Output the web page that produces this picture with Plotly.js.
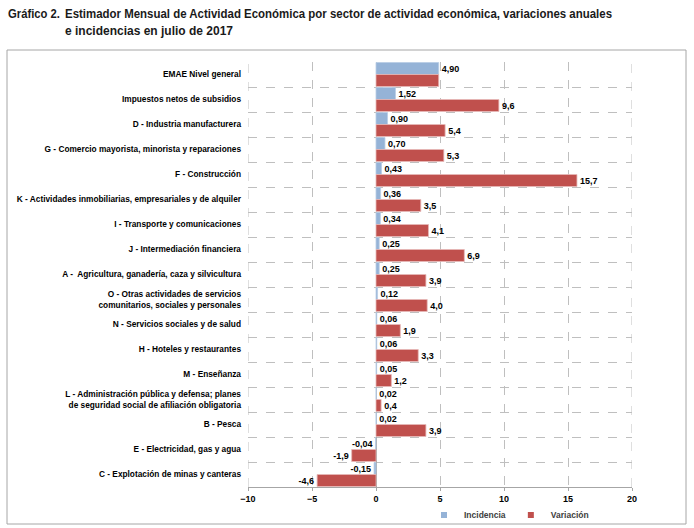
<!DOCTYPE html>
<html>
<head>
<meta charset="utf-8">
<script src="https://cdn.plot.ly/plotly-3.0.1.min.js"></script>
<style>html,body{margin:0;padding:0;background:#fff;}#chart{width:694px;height:528px;}</style>
</head>
<body>
<div id="chart"></div>
<script>
const categories = [
  "EMAE Nivel general",
  "Impuestos netos de subsidios",
  "D - Industria manufacturera",
  "G - Comercio mayorista, minorista y reparaciones",
  "F - Construcción",
  "K - Actividades inmobiliarias, empresariales y de alquiler",
  "I - Transporte y comunicaciones",
  "J - Intermediación financiera",
  "A -  Agricultura, ganadería, caza y silvicultura",
  "O - Otras actividades de servicios<br>comunitarios, sociales y personales",
  "N - Servicios sociales y de salud",
  "H - Hoteles y restaurantes",
  "M - Enseñanza",
  "L - Administración pública y defensa; planes<br>de seguridad social de afiliación obligatoria",
  "B - Pesca",
  "E - Electricidad, gas y agua",
  "C - Explotación de minas y canteras"
];
const incidencia = [4.90, 1.52, 0.90, 0.70, 0.43, 0.36, 0.34, 0.25, 0.25, 0.12, 0.06, 0.06, 0.05, 0.02, 0.02, -0.04, -0.15];
const variacion = [4.9, 9.6, 5.4, 5.3, 15.7, 3.5, 4.1, 6.9, 3.9, 4.0, 1.9, 3.3, 1.2, 0.4, 3.9, -1.9, -4.6];
// the reference prints no value label on the first "Variación" bar
const variacionShowLabel = [false, true, true, true, true, true, true, true, true, true, true, true, true, true, true, true, true];
const seriesNames = ["Incidencia", "Variación"];
const seriesColors = ["#95B3D7", "#C0504D"];
const xTicks = [-10, -5, 0, 5, 10, 15, 20];
const titleLabel = "Gráfico 2.";
const titleLine1 = "Estimador Mensual de Actividad Económica por sector de actividad económica, variaciones anuales";
const titleLine2 = "e incidencias en julio de 2017";

const fmt = (v, d) => v.toFixed(d).replace(".", ",");
const labelFont = {family: "Liberation Sans, Arial, sans-serif", size: 9, color: "#000", weight: "bold"};

const traces = [
  {
    type: "bar", orientation: "h", name: seriesNames[0], showlegend: false,
    y: categories, x: incidencia,
    marker: {color: seriesColors[0], line: {color: "#B9CDE5", width: 0.8}},
    text: incidencia.map(v => fmt(v, 2)), textposition: "outside", cliponaxis: false,
    constraintext: "none", textfont: labelFont, hoverinfo: "skip"
  },
  {
    type: "bar", orientation: "h", name: seriesNames[1], showlegend: false,
    y: categories, x: variacion,
    marker: {color: seriesColors[1], line: {color: "#E6B9B8", width: 0.8}},
    text: variacion.map((v, i) => variacionShowLabel[i] ? fmt(v, 1) : ""), textposition: "outside", cliponaxis: false,
    constraintext: "none", textfont: labelFont, hoverinfo: "skip"
  },
  // legend entries (small square keys, as in the reference)
  {type: "scatter", mode: "markers", name: seriesNames[0], x: [null], y: [null],
   marker: {symbol: "square", size: 6, color: seriesColors[0]}, hoverinfo: "skip"},
  {type: "scatter", mode: "markers", name: seriesNames[1], x: [null], y: [null],
   marker: {symbol: "square", size: 6, color: seriesColors[1]}, hoverinfo: "skip"}
];

const pl = 248, pr = 632, pt = 62, pb = 487;
const pw = pr - pl, ph = pb - pt;
const px = v => (v - pl) / pw;
const py = v => (pb - v) / ph;

const titleFont = {family: "Liberation Sans, Arial, sans-serif", size: 13, color: "#1a1a1a", weight: "bold"};

const layout = {
  width: 694, height: 528,
  margin: {l: pl, r: 694 - pr, t: pt, b: 528 - pb, pad: 0, autoexpand: false},
  paper_bgcolor: "#fff", plot_bgcolor: "#fff",
  barmode: "group", bargap: 0.04, bargroupgap: 0,
  showlegend: true,
  legend: {
    orientation: "h", xref: "container", yref: "container",
    x: 509 / 694, xanchor: "center", y: 1 - 515 / 528, yanchor: "middle",
    font: {family: "Liberation Sans, Arial, sans-serif", size: 8.5, color: "#404040", weight: "bold"},
    itemwidth: 30, tracegroupgap: 0, bgcolor: "rgba(0,0,0,0)", borderwidth: 0
  },
  xaxis: {
    range: [-10, 20], tickvals: xTicks, fixedrange: true,
    showgrid: true, gridcolor: "#BFBFBF", griddash: "dash", gridwidth: 1,
    zeroline: true, zerolinecolor: "#A6A6A6", zerolinewidth: 1,
    showline: true, linecolor: "#A6A6A6", linewidth: 1,
    ticks: "outside", ticklen: 3, tickcolor: "#A6A6A6",
    tickfont: {family: "Liberation Sans, Arial, sans-serif", size: 9, color: "#000", weight: "bold"}
  },
  yaxis: {
    type: "category", autorange: "reversed", fixedrange: true,
    tickson: "boundaries", ticks: "", showgrid: true,
    gridcolor: "#BFBFBF", griddash: "dash", gridwidth: 1,
    showline: false, zeroline: false, ticklabelstandoff: 6,
    tickfont: {family: "Liberation Sans, Arial, sans-serif", size: 8.3, color: "#000", weight: "bold"}
  },
  shapes: [
    {type: "rect", xref: "paper", yref: "paper", x0: px(7), x1: px(686), y0: py(524), y1: py(50),
     line: {color: "#A6A6A6", width: 1}, fillcolor: "rgba(0,0,0,0)", layer: "below"},
    {type: "line", xref: "x", yref: "paper", x0: -10, x1: -10, y0: 0, y1: 1,
     line: {color: "#BFBFBF", width: 1, dash: "dash"}, layer: "below"},
    {type: "line", xref: "x", yref: "paper", x0: 20, x1: 20, y0: 0, y1: 1,
     line: {color: "#BFBFBF", width: 1, dash: "dash"}, layer: "below"}
  ],
  annotations: [
    {xref: "paper", yref: "paper", x: px(8), y: py(14), xanchor: "left", yanchor: "middle",
     text: titleLabel, showarrow: false, align: "left", font: titleFont},
    {xref: "paper", yref: "paper", x: px(65), y: py(14), xanchor: "left", yanchor: "middle",
     text: titleLine1, showarrow: false, align: "left", font: titleFont},
    {xref: "paper", yref: "paper", x: px(65), y: py(31), xanchor: "left", yanchor: "middle",
     text: titleLine2, showarrow: false, align: "left", font: titleFont}
  ]
};

// condensed look of the title: text widths as in the reference [left, width]
const titleFit = {};
titleFit[titleLabel] = [8, 52];
titleFit[titleLine1] = [65, 547];
titleFit[titleLine2] = [65, 168];

Plotly.newPlot("chart", traces, layout, {displayModeBar: false, staticPlot: true}).then(gd => {
  const root = gd.getBoundingClientRect();
  gd.querySelectorAll("g.annotation text.annotation-text").forEach(t => {
    const fit = titleFit[t.textContent];
    if (!fit) return;
    t.setAttribute("textLength", fit[1]);
    t.setAttribute("lengthAdjust", "spacingAndGlyphs");
    const r = t.getBoundingClientRect();
    const dx = fit[0] - (r.left - root.left);
    t.setAttribute("transform", "translate(" + dx + ",0)");
  });
});
</script>
</body>
</html>
